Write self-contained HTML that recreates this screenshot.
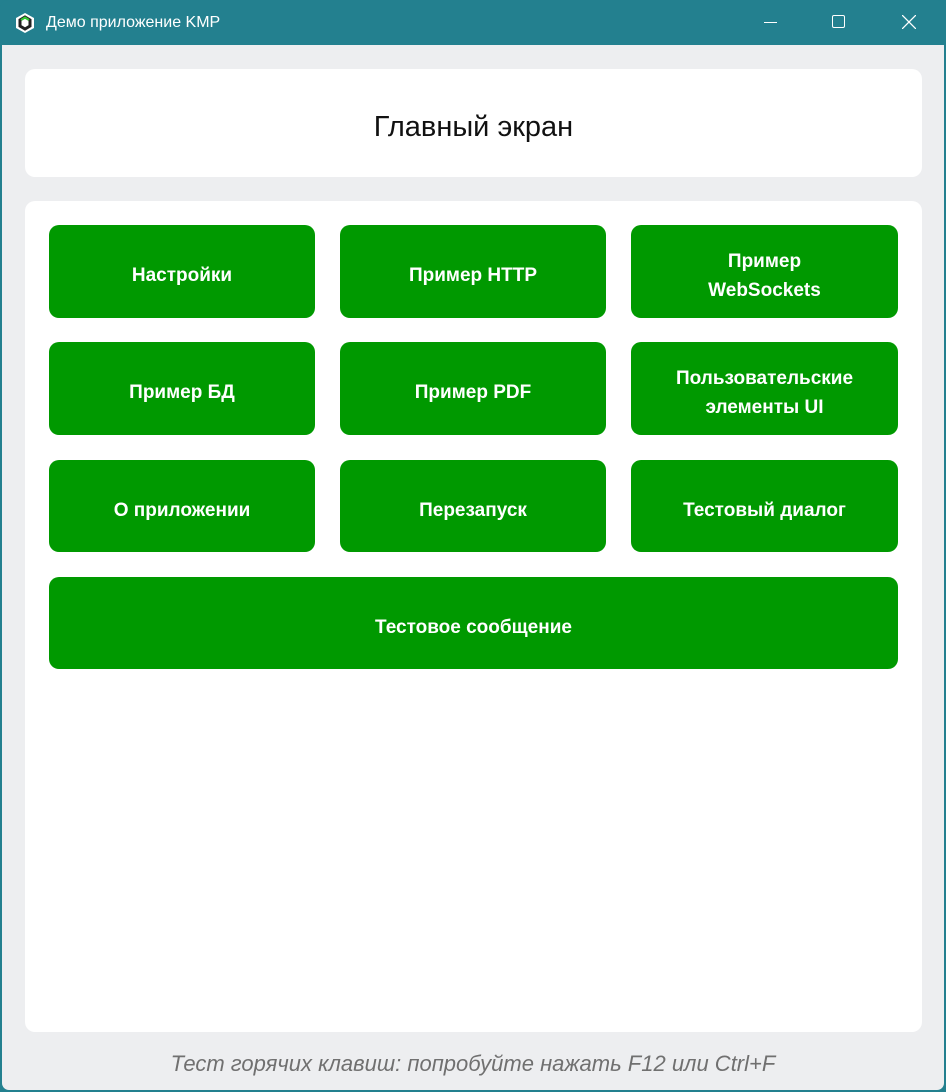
<!DOCTYPE html>
<html><head><meta charset="utf-8"><style>
*{margin:0;padding:0;box-sizing:border-box}
body{width:946px;height:1092px;overflow:hidden;background:#23808f;font-family:"Liberation Sans","DejaVu Sans",sans-serif}
.win{position:absolute;left:0;top:0;width:946px;height:1092px;border-radius:8px;background:#23808f}
.title{position:absolute;left:46px;top:14px;color:#fff;font-size:16px}
.content{position:absolute;left:2px;top:45px;width:942px;height:1045px;background:#edeef0;border-radius:0 0 7px 7px}
.card{position:absolute;background:#fff;border-radius:10px}
.btn{position:absolute;background:#009900;border-radius:10px;color:#fff;font-weight:bold;font-size:19px;display:flex;align-items:center;justify-content:center;text-align:center;line-height:29px;padding-top:8px}
.foot{position:absolute;left:0;width:946px;top:1051px;text-align:center;font-style:italic;color:#707070;font-size:22px}
</style></head><body>
<div class="win">
<svg style="position:absolute;left:14px;top:12px" width="22" height="22" viewBox="0 0 22 22"><polygon points="11,1 20,6 20,16 11,21 2,16 2,6" fill="#fff"/><polygon points="11,5 16,8 16,14 11,17 6,14 6,8" fill="none" stroke="#222" stroke-width="3"/><path d="M7 8 L11 5.5 L15 8" stroke="#3c3" stroke-width="2" fill="none"/></svg>
<div class="title">Демо приложение KMP</div>
<div style="position:absolute;left:764px;top:22px;width:13px;height:1px;background:#fff"></div>
<div style="position:absolute;left:832px;top:15px;width:13px;height:13px;border:1.5px solid #fff;border-radius:2px"></div>
<svg style="position:absolute;left:902px;top:15px" width="14" height="14"><path d="M0 0L14 14M14 0L0 14" stroke="#fff" stroke-width="1.3"/></svg>
<div class="content"></div>
<div class="card" style="left:25px;top:69px;width:897px;height:108px"></div>
<div style="position:absolute;left:25px;top:111px;width:897px;text-align:center;font-size:29px;color:#111">Главный экран</div>
<div class="card" style="left:25px;top:201px;width:897px;height:831px"></div>
<div class="btn" style="left:49px;top:225px;width:266px;height:93px">Настройки</div>
<div class="btn" style="left:340px;top:225px;width:266px;height:93px">Пример HTTP</div>
<div class="btn" style="left:631px;top:225px;width:267px;height:93px">Пример<br>WebSockets</div>
<div class="btn" style="left:49px;top:342px;width:266px;height:93px">Пример БД</div>
<div class="btn" style="left:340px;top:342px;width:266px;height:93px">Пример PDF</div>
<div class="btn" style="left:631px;top:342px;width:267px;height:93px">Пользовательские<br>элементы UI</div>
<div class="btn" style="left:49px;top:460px;width:266px;height:92px">О приложении</div>
<div class="btn" style="left:340px;top:460px;width:266px;height:92px">Перезапуск</div>
<div class="btn" style="left:631px;top:460px;width:267px;height:92px">Тестовый диалог</div>
<div class="btn" style="left:49px;top:577px;width:849px;height:92px">Тестовое сообщение</div>
<div class="foot">Тест горячих клавиш: попробуйте нажать F12 или Ctrl+F</div>
</div>
</body></html>
